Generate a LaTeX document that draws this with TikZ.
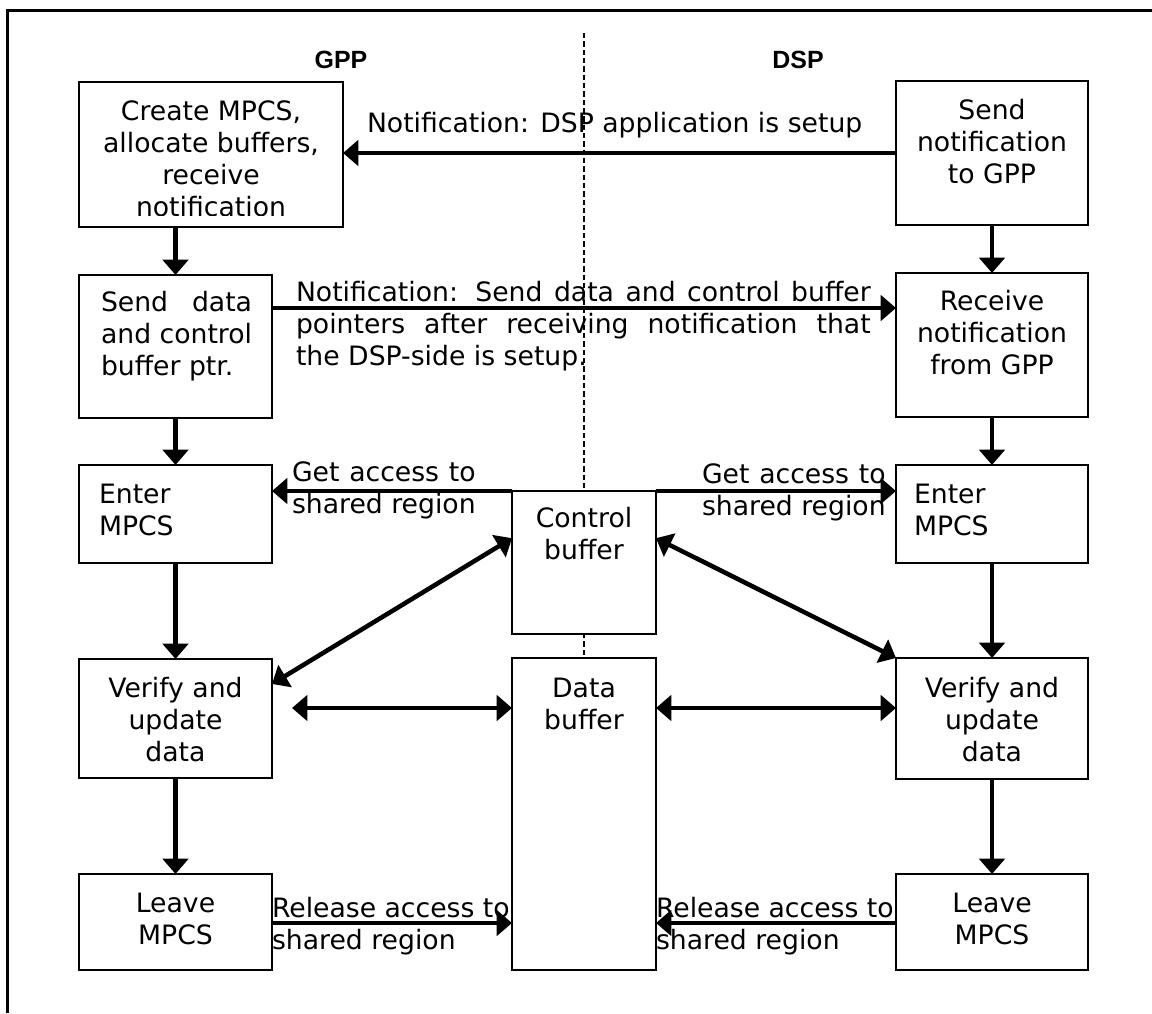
\documentclass[tikz,border=0pt]{standalone}
\usepackage{fontspec}
\usepackage{calc}
\setmainfont{DejaVu Sans}
\newfontfamily\lsans{Liberation Sans}
\usetikzlibrary{arrows.meta,calc}
\newcommand{\mybox}[5]{\node[boxst, minimum width={(#4-#2)*0.75pt}, minimum height={(#5-#3)*0.75pt}] (#1) at ({(#2+#4)/2},{(#3+#5)/2}) {};}
\begin{document}
\begin{tikzpicture}[x=0.75pt,y=-0.75pt,
  boxst/.style={draw, line width=1.25pt, fill=white, inner sep=0pt, outer sep=0pt, rectangle},
  txt/.style={font=\fontsize{20}{24}\selectfont, inner sep=0pt, outer sep=0pt},
  hdr/.style={font=\lsans\bfseries\fontsize{18.7}{22}\selectfont, inner sep=0pt},
  flow/.style={line width=3.4pt, -{Triangle[length=11.5pt,width=19pt]}},
  both/.style={line width=3.4pt, {Triangle[length=11.5pt,width=19pt]}-{Triangle[length=11.5pt,width=19pt]}},
  divider/.style={line width=1pt, dash pattern=on 4pt off 2.25pt},
]
\useasboundingbox (0,0) rectangle (1152,1013);
% frame
\draw[line width=1.7pt] (7.5,1013) -- (7.5,10.5) -- (1152,10.5);
% headers
\node[hdr] (gpp) at (341,60) {GPP};
\node[hdr] (dsp) at (798,60) {DSP};
% connector labels
\node[txt, anchor=west, align=left] (lnot1) at (367,126) {\strut Notification: DSP application is setup};
\node[txt, anchor=west, align=left] (lnot2) at (296,327) {\strut\makebox[431pt][s]{Notification: Send data and control buffer}\\\makebox[431pt][s]{pointers after receiving notification that}\\the DSP-side is setup.\strut};
\node[txt, anchor=west, align=left] (lgetL) at (292,491.5) {\strut\makebox[\widthof{shared region}][s]{Get access to}\\shared region\strut};
\node[txt, anchor=west, align=left] (lgetR) at (702,493) {\strut\makebox[\widthof{shared region}][s]{Get access to}\\shared region\strut};
\node[txt, anchor=west, align=left] (lrelL) at (272,927.5) {\strut Release access to\\shared region\strut};
\node[txt, anchor=west, align=left] (lrelR) at (656,927.5) {\strut Release access to\\shared region\strut};
% divider
\coordinate (dtop) at (584,33);
\coordinate (dbot) at (584,658);
\draw[divider] (dtop) -- (dbot);
% boxes
\mybox{create}{79}{82}{343}{227}
\mybox{sendD}{79}{275}{272}{418}
\mybox{enterL}{79}{465}{272}{563}
\mybox{verL}{79}{659}{272}{778}
\mybox{leaveL}{79}{874}{272}{970}
\mybox{cb}{512}{491}{656}{634}
\mybox{db}{512}{658}{656}{970}
\mybox{sendN}{896}{81}{1088}{225}
\mybox{recv}{896}{273}{1088}{417}
\mybox{enterR}{896}{465}{1088}{563}
\mybox{verR}{896}{658}{1088}{779}
\mybox{leaveR}{896}{874}{1088}{970}
% box texts
\begin{scope}
\clip (79,82) rectangle (343,215.5);
\node[txt, align=center] (tcreate) at (211,162.5) {\strut Create MPCS,\\allocate buffers,\\receive\\notification\strut};
\end{scope}
\node[txt, anchor=west, align=left] (tsendD) at (101,337) {\strut\makebox[\widthof{and control}][s]{Send data}\\and control\\buffer ptr.\strut};
\node[txt, anchor=west, align=left] (tenterL) at (99,513.5) {\strut Enter\\MPCS\strut};
\node[txt, align=center] (tverL) at (175.5,723) {\strut Verify and\\update\\data\strut};
\node[txt, align=center] (tleaveL) at (175.5,922) {\strut Leave\\MPCS\strut};
\node[txt, align=center] (tcb) at (584,537.5) {\strut Control\\buffer\strut};
\node[txt, align=center] (tdb) at (584,707) {\strut Data\\buffer\strut};
\node[txt, align=center] (tsendN) at (992,145) {\strut Send\\notification\\to GPP\strut};
\node[txt, align=center] (trecv) at (992,336) {\strut Receive\\notification\\from GPP\strut};
\node[txt, anchor=west, align=left] (tenterR) at (914,513.5) {\strut Enter\\MPCS\strut};
\node[txt, align=center] (tverR) at (992,723) {\strut Verify and\\update\\data\strut};
\node[txt, align=center] (tleaveR) at (992,922) {\strut Leave\\MPCS\strut};
% connectors
\coordinate (yN2) at (0,308);
\coordinate (hL) at (292,708);
\coordinate (yRel) at (0,923);
\draw[flow] (sendN.west) -- (sendN.west -| create.east);
\draw[flow] (sendD.north |- create.south) -- (sendD.north);
\draw[flow] (sendN.south) -- (recv.north);
\draw[flow] (sendD.east |- yN2) -- (recv.west |- yN2);
\draw[flow] (sendD.south) -- (enterL.north);
\draw[flow] (recv.south) -- (enterR.north);
\draw[flow] (cb.north west) -- (cb.north west -| enterL.east);
\draw[flow] (cb.north east) -- (cb.north east -| enterR.west);
\draw[flow] (enterL.south) -- (verL.north);
\draw[flow] (enterR.south) -- (verR.north);
\draw[both] ($(cb.north west)!0.33!(cb.south west)$) -- ($(verL.north east)!0.21!(verL.south east)$);
\draw[both] ($(cb.north east)!0.33!(cb.south east)$) -- (verR.north west);
\draw[both] (hL) -- (hL -| db.west);
\draw[both] (db.east |- hL) -- (verR.west |- hL);
\draw[flow] (verL.south) -- (leaveL.north);
\draw[flow] (verR.south) -- (leaveR.north);
\draw[flow] (leaveL.east |- yRel) -- (db.west |- yRel);
\draw[flow] (leaveR.west |- yRel) -- (db.east |- yRel);
\end{tikzpicture}
\end{document}
